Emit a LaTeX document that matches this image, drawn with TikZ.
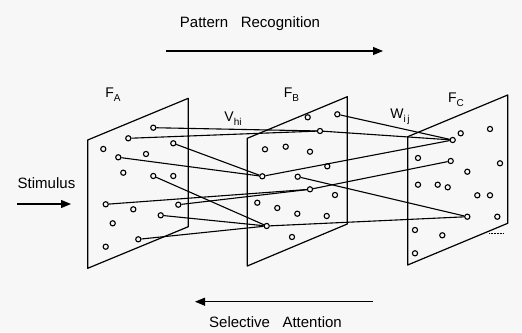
\documentclass[tikz,border=0pt]{standalone}
\usepackage{fontspec}
\setmainfont{Liberation Sans}
\usetikzlibrary{arrows.meta}
\newcommand\sublbl[2]{#1\raisebox{-0.5ex}{\fontsize{10}{10}\selectfont #2}}
\tikzset{
 dot/.style={circle,draw,line width=1.1pt,inner sep=0pt,minimum size=5.2pt},
 plane/.style={draw,line width=1.2pt,line join=round},
 link/.style={line width=1.1pt},
 lbl/.style={font=\fontsize{14}{16}\selectfont,inner sep=0pt},
 caption/.style={font=\fontsize{15}{18}\selectfont,inner sep=0pt},
 flow/.style={line width=1.1pt,-{Triangle[length=10pt,width=8pt]}},
}
\begin{document}
\begin{tikzpicture}[x=1pt,y=-1pt]
\fill[white!97!black] (0,0) rectangle (522,332);
\useasboundingbox (0,0) rectangle (522,332);

% planes
\draw[plane] (87.7,140) -- (188.3,98.3) -- (188.3,226.7) -- (87.7,268.3) -- cycle;
\draw[plane] (247.3,138.3) -- (347.3,96.7) -- (347.3,224) -- (247.3,266) -- cycle;
\draw[plane] (407.7,136.7) -- (507.7,95) -- (507.7,223.3) -- (407.7,265) -- cycle;

% labels
\node[lbl] (fa) at (113,95) {\sublbl{F}{A}};
\node[lbl] (fb) at (291.5,95) {\sublbl{F}{B}};
\node[lbl] (fc) at (456,100) {\sublbl{F}{C}};
\node[lbl] (vhi) at (233,119) {\sublbl{V}{hi}};
\node[lbl] (wij) at (400,117) {\sublbl{W}{i\,j}};

\node[caption] (pr) at (250,24) {Pattern\ \ \ Recognition};
\node[caption] (sa) at (275.5,321.7) {Selective\ \ \ Attention};
\node[caption] (st) at (46.5,183.5) {Stimulus};

\coordinate (pr1) at (166,51);
\coordinate (pr2) at (383,51);
\draw[flow] (pr1) -- (pr2);
\coordinate (sa1) at (373,301.7);
\coordinate (sa2) at (195,301.7);
\draw[flow] (sa1) -- (sa2);
\coordinate (st1) at (17,204);
\coordinate (st2) at (71,204);
\draw[flow] (st1) -- (st2);

% F_A units
\node[dot] (a1) at (153.3,127.7) {};
\node[dot] (a2) at (128.3,138.3) {};
\node[dot] (a3) at (103.3,149) {};
\node[dot] (a4) at (173.3,143.3) {};
\node[dot] (a5) at (118.3,157.3) {};
\node[dot] (a6) at (146,154) {};
\node[dot] (a7) at (123.3,172.7) {};
\node[dot] (a8) at (153.3,176) {};
\node[dot] (a9) at (173.3,176) {};
\node[dot] (a10) at (105.7,204.3) {};
\node[dot] (a11) at (133.3,209.3) {};
\node[dot] (a12) at (178.3,204.7) {};
\node[dot] (a13) at (160.7,215.3) {};
\node[dot] (a14) at (112.7,223.3) {};
\node[dot] (a15) at (138.3,239.3) {};
\node[dot] (a16) at (105.7,246.7) {};

% F_B units
\node[dot] (b1) at (307.7,117.3) {};
\node[dot] (b2) at (337.3,114.3) {};
\node[dot] (b3) at (320,131) {};
\node[dot] (b4) at (265,149.3) {};
\node[dot] (b5) at (285.7,146.7) {};
\node[dot] (b6) at (310,151.7) {};
\node[dot] (b7) at (327.3,166.3) {};
\node[dot] (b8) at (262.3,176.3) {};
\node[dot] (b9) at (297.7,176.7) {};
\node[dot] (b10) at (310,189.3) {};
\node[dot] (b11) at (335,195) {};
\node[dot] (b12) at (257.3,202.7) {};
\node[dot] (b13) at (277.3,208) {};
\node[dot] (b14) at (297.3,213.7) {};
\node[dot] (b15) at (326.7,216) {};
\node[dot] (b16) at (266.7,226) {};
\node[dot] (b17) at (292,237) {};

% F_C units
\node[dot] (c1) at (452.7,140) {};
\node[dot] (c2) at (460.7,133.3) {};
\node[dot] (c3) at (490,129) {};
\node[dot] (c4) at (418,158) {};
\node[dot] (c5) at (450.7,161) {};
\node[dot] (c6) at (500,163.3) {};
\node[dot] (c7) at (467.3,171.7) {};
\node[dot] (c8) at (418,184.7) {};
\node[dot] (c9) at (437.7,184.7) {};
\node[dot] (c10) at (447.7,187.3) {};
\node[dot] (c11) at (477.3,195.3) {};
\node[dot] (c12) at (490,195.3) {};
\node[dot] (c13) at (467.3,216.7) {};
\node[dot] (c14) at (497.3,216.7) {};
\node[dot] (c15) at (415,230) {};
\node[dot] (c16) at (442.3,235.3) {};
\node[dot] (c17) at (415,253.3) {};

% connections A -> B
\draw[link] (a1) -- (b3);
\draw[link] (a2) -- (b3);
\draw[link] (a4) -- (b8);
\draw[link] (a5) -- (b8);
\draw[link] (a8) -- (b16);
\draw[link] (a13) -- (b16);
\draw[link] (a15) -- (b16);
\draw[link] (a10) -- (b10);
\draw[link] (a12) -- (b10);
% connections B -> C
\draw[link] (b2) -- (c1);
\draw[link] (b3) -- (c1);
\draw[link] (b8) -- (c1);
\draw[link] (b10) -- (c5);
\draw[link] (b9) -- (c13);
\draw[link] (b16) -- (c13);

% small mark
\coordinate (m1) at (489,233);
\coordinate (m2) at (504,233);
\draw[densely dotted,line width=0.5pt] (m1) -- (m2);
\end{tikzpicture}
\end{document}
